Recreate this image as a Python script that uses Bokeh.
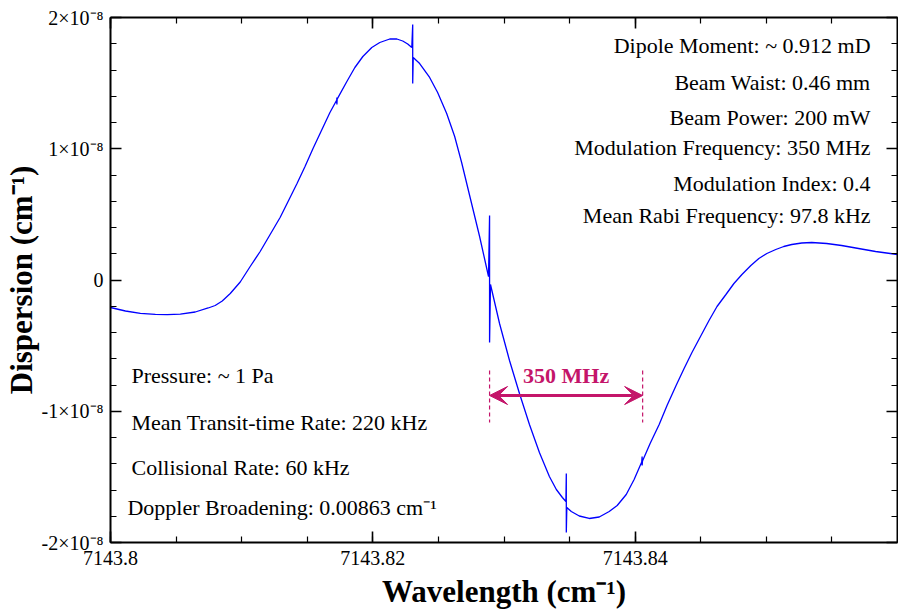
from bokeh.plotting import figure
from bokeh.models import (ColumnDataSource, FixedTicker, LinearAxis, CustomJSTickFormatter,
                          Label, Arrow, VeeHead, Range1d)
from bokeh.embed import file_html
from bokeh.resources import INLINE

# ---------------- data ----------------
wavenumber = [
    7143.80000, 7143.80114, 7143.80228, 7143.80342, 7143.80433, 7143.80532, 7143.80646,
    7143.80745, 7143.80798, 7143.80852, 7143.80913, 7143.80989, 7143.81065, 7143.81141,
    7143.81217,
    7143.81293, 7143.81369, 7143.81422, 7143.81483, 7143.81544, 7143.81612, 7143.81673,
    7143.81725, 7143.81726, 7143.81726, 7143.81728,
    7143.81802, 7143.81863, 7143.81924, 7143.81992, 7143.82053, 7143.82129, 7143.82183,
    7143.82228, 7143.82266, 7143.82297,
    7143.82304, 7143.82304, 7143.82308,
    7143.82357, 7143.82433, 7143.82494, 7143.82563, 7143.82624, 7143.82677, 7143.82738,
    7143.82814, 7143.82882,
    7143.82890, 7143.82890, 7143.82897,
    7143.82966, 7143.83042, 7143.83118, 7143.83194, 7143.83270, 7143.83346, 7143.83399,
    7143.83445, 7143.83472,
    7143.83475, 7143.83475, 7143.83479,
    7143.83513, 7143.83574, 7143.83650, 7143.83726, 7143.83802, 7143.83863, 7143.83932,
    7143.83992,
    7143.84050, 7143.84053, 7143.84053, 7143.84056,
    7143.84114, 7143.84183, 7143.84243, 7143.84312, 7143.84373, 7143.84433, 7143.84502,
    7143.84563, 7143.84624, 7143.84692, 7143.84753, 7143.84814, 7143.84882, 7143.84943,
    7143.85004, 7143.85072, 7143.85133, 7143.85194, 7143.85270, 7143.85346, 7143.85460,
    7143.85574, 7143.85703, 7143.85833, 7143.86000,
]
dispersion = [
    -0.2095e-8, -0.2362e-8, -0.2537e-8, -0.2621e-8, -0.2644e-8, -0.2598e-8, -0.2438e-8,
    -0.2133e-8, -0.1943e-8, -0.1600e-8, -0.1029e-8, -0.0152e-8, 0.1029e-8, 0.2171e-8,
    0.3467e-8,
    0.4762e-8, 0.6286e-8, 0.7352e-8, 0.8648e-8, 1.0019e-8, 1.1467e-8, 1.2762e-8,
    1.3714e-8, 1.3905e-8, 1.3371e-8, 1.3783e-8,
    1.5124e-8, 1.6190e-8, 1.7029e-8, 1.7714e-8, 1.8095e-8, 1.8362e-8, 1.8362e-8,
    1.8210e-8, 1.7981e-8, 1.7714e-8,
    1.9467e-8, 1.4971e-8, 1.6952e-8,
    1.6495e-8, 1.5429e-8, 1.4286e-8, 1.2686e-8, 1.0933e-8, 0.8952e-8, 0.6438e-8,
    0.3314e-8, 0.0267e-8,
    0.4914e-8, -0.4762e-8, -0.0343e-8,
    -0.3314e-8, -0.6133e-8, -0.8648e-8, -1.1010e-8, -1.3143e-8, -1.4971e-8, -1.5962e-8,
    -1.6571e-8, -1.6876e-8,
    -1.4743e-8, -1.9238e-8, -1.7333e-8,
    -1.7638e-8, -1.7981e-8, -1.8171e-8, -1.8057e-8, -1.7638e-8, -1.7181e-8, -1.6343e-8,
    -1.5200e-8,
    -1.3867e-8, -1.3448e-8, -1.4133e-8, -1.3790e-8,
    -1.2457e-8, -1.1010e-8, -0.9562e-8, -0.8038e-8, -0.6743e-8, -0.5524e-8, -0.4229e-8,
    -0.3086e-8, -0.2019e-8, -0.1105e-8, -0.0267e-8, 0.0419e-8, 0.1105e-8, 0.1638e-8,
    0.2019e-8, 0.2324e-8, 0.2552e-8, 0.2705e-8, 0.2819e-8, 0.2857e-8, 0.2781e-8,
    0.2629e-8, 0.2400e-8, 0.2171e-8, 0.1943e-8,
]

x_major_ticks = [7143.80, 7143.82, 7143.84]
y_major_ticks = [-2e-8, -1e-8, 0.0, 1e-8, 2e-8]

mod_start = 7143.82890          # carrier line
mod_end = 7143.84057            # carrier + 350 MHz
mod_label = "350 MHz"

right_notes = ["Dipole Moment: ~ 0.912 mD", "Beam Waist: 0.46 mm", "Beam Power: 200 mW",
               "Modulation Frequency: 350 MHz", "Modulation Index: 0.4",
               "Mean Rabi Frequency: 97.8 kHz"]
left_notes = ["Pressure: ~ 1 Pa", "Mean Transit-time Rate: 220 kHz",
              "Collisional Rate: 60 kHz", "Doppler Broadening: 0.00863 cm\u207b\u00b9"]

# ---------------- figure ----------------
FONT = "Liberation Serif"
ACCENT = "#C4156A"

p = figure(width=898, height=613, output_backend="svg", toolbar_location=None,
           x_range=Range1d(7143.80, 7143.86), y_range=Range1d(-2e-8, 2e-8),
           min_border_left=110, min_border_right=1, min_border_top=17, min_border_bottom=71)
p.xgrid.visible = False
p.ygrid.visible = False
p.outline_line_color = None
p.background_fill_color = "white"
p.border_fill_color = "white"

src = ColumnDataSource(dict(x=wavenumber, y=dispersion))
p.line("x", "y", source=src, line_color="#0000FF", line_width=1.3)

x_minor = [7143.80 + 0.005 * k for k in range(13)]
y_minor = [0.2e-8 * k for k in range(-10, 11)]

x_fmt = CustomJSTickFormatter(code="return String(parseFloat(tick.toFixed(3)));")
y_fmt = CustomJSTickFormatter(code="""
const m = Math.round(tick * 1e8);
if (m === 0) { return "0"; }
return m + "\\u00d710\\u207b\\u2078";
""")
blank = CustomJSTickFormatter(code="return '';")


def style(ax, ticker, fmt, show):
    ax.ticker = ticker
    ax.formatter = fmt
    ax.axis_line_width = 2
    ax.axis_line_color = "black"
    ax.major_tick_in = 11
    ax.major_tick_out = 0
    ax.minor_tick_in = 6
    ax.minor_tick_out = 0
    ax.major_tick_line_width = 1.6
    ax.minor_tick_line_width = 1.2
    ax.major_label_text_font = FONT
    ax.major_label_text_color = "black"
    if show:
        ax.major_label_text_font_size = "20px"
    else:
        ax.major_label_text_font_size = "0px"
        ax.major_label_standoff = 0


xt = FixedTicker(ticks=x_major_ticks, minor_ticks=x_minor)
yt = FixedTicker(ticks=y_major_ticks, minor_ticks=y_minor)

style(p.xaxis[0], xt, x_fmt, True)
style(p.yaxis[0], yt, y_fmt, True)
p.xaxis[0].major_label_standoff = 8
p.yaxis[0].major_label_standoff = 7

p.xaxis[0].axis_label = "Wavelength (cm\u207b\u00b9)"
p.yaxis[0].axis_label = "Dispersion (cm\u207b\u00b9)"
for ax in (p.xaxis[0], p.yaxis[0]):
    ax.axis_label_text_font = FONT
    ax.axis_label_text_font_style = "bold"
    ax.axis_label_text_font_size = "31px"
    ax.axis_label_text_color = "black"
p.xaxis[0].axis_label_standoff = 6
p.yaxis[0].axis_label_standoff = 0

top = LinearAxis()
right = LinearAxis()
style(top, FixedTicker(ticks=x_major_ticks, minor_ticks=x_minor), blank, False)
style(right, FixedTicker(ticks=y_major_ticks, minor_ticks=y_minor), blank, False)
p.add_layout(top, "above")
p.add_layout(right, "right")

# ---------------- modulation arrow ----------------
arrow_y = -0.880e-8
p.segment(x0=[mod_start, mod_end], y0=[-0.690e-8, -0.690e-8],
          x1=[mod_start, mod_end], y1=[-1.086e-8, -1.086e-8],
          line_color=ACCENT, line_width=1.2, line_dash="4 3")
p.add_layout(Arrow(start=VeeHead(size=18, fill_color=ACCENT, line_color=ACCENT),
                   end=VeeHead(size=18, fill_color=ACCENT, line_color=ACCENT),
                   x_start=mod_start, y_start=arrow_y, x_end=mod_end, y_end=arrow_y,
                   line_color=ACCENT, line_width=3))
p.add_layout(Label(x=(mod_start + mod_end) / 2, y=-0.728e-8, text=mod_label,
                   text_font=FONT, text_font_style="bold", text_font_size="22px",
                   text_color=ACCENT, text_align="center", text_baseline="middle"))

# ---------------- parameter notes ----------------
right_y = [1.787e-8, 1.505e-8, 1.238e-8, 1.010e-8, 0.735e-8, 0.491e-8]
for t, yy in zip(right_notes, right_y):
    p.add_layout(Label(x=7143.85795, y=yy, text=t, text_font=FONT, text_font_size="22px",
                       text_color="black", text_align="right", text_baseline="middle"))

left_x = [7143.80160, 7143.80160, 7143.80160, 7143.80129]
left_y = [-0.728e-8, -1.086e-8, -1.429e-8, -1.733e-8]
for t, xx, yy in zip(left_notes, left_x, left_y):
    p.add_layout(Label(x=xx, y=yy, text=t, text_font=FONT, text_font_size="22px",
                       text_color="black", text_align="left", text_baseline="middle"))

open("out.html", "w").write(file_html(p, INLINE))
